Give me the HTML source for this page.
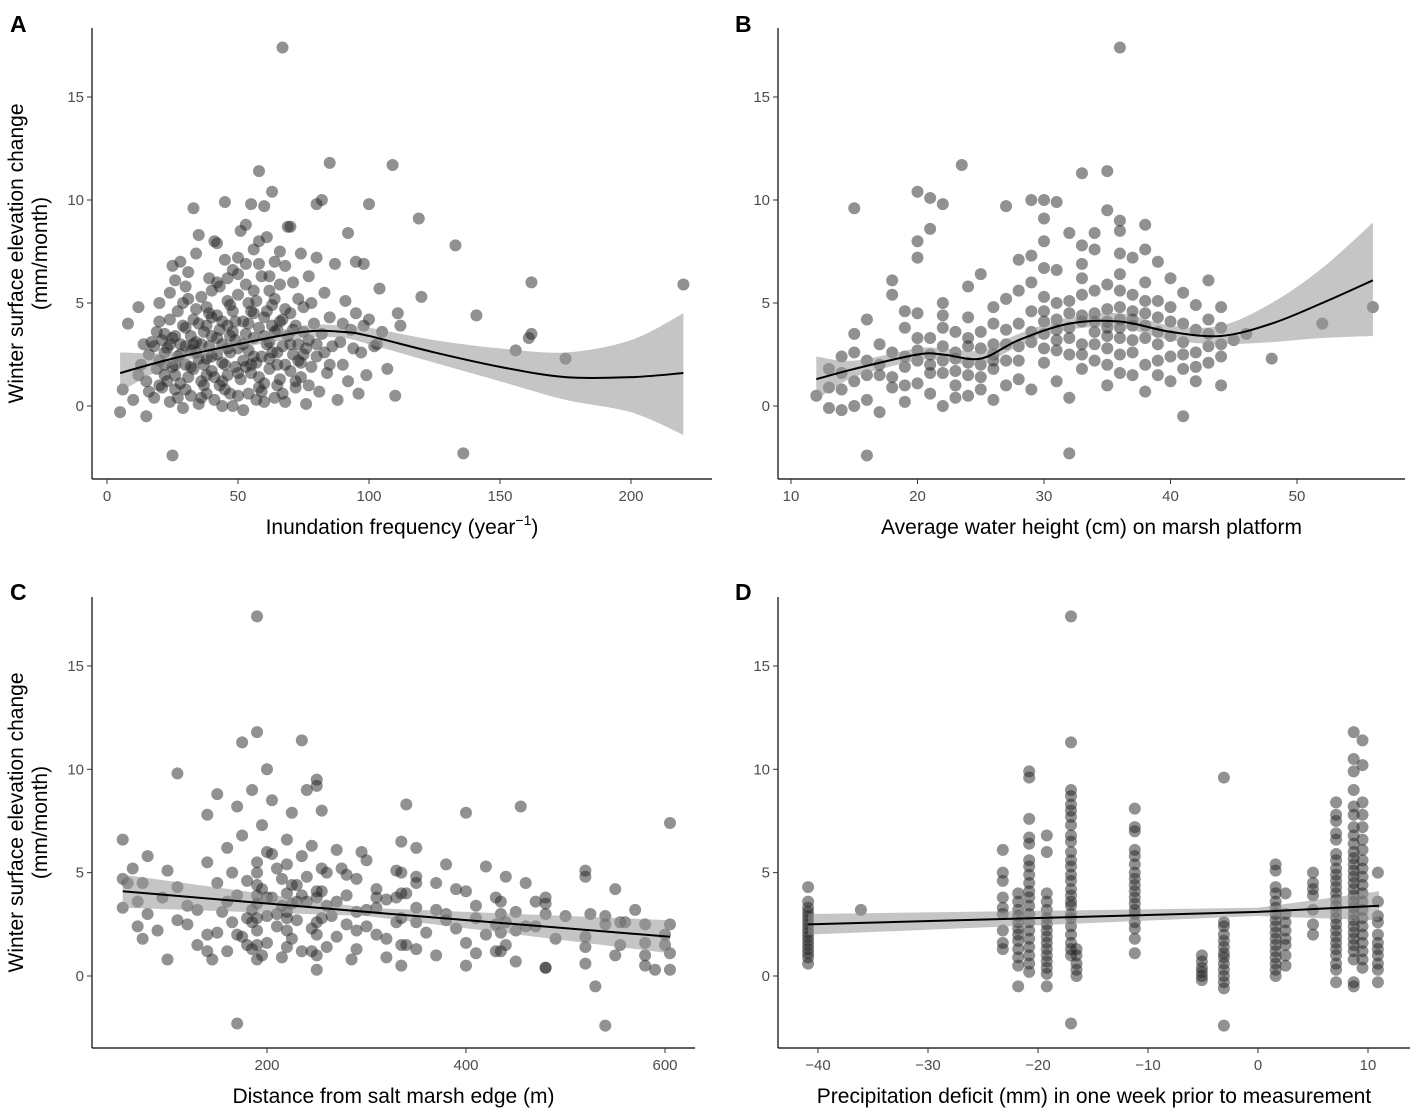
<!DOCTYPE html>
<html><head><meta charset="utf-8"><style>
html,body{margin:0;padding:0;background:#fff}
svg{display:block;font-family:"Liberation Sans",Arial,sans-serif}
.tk{fill:#4d4d4d;font-size:15px}
.ttl{fill:#000;font-size:21px}
.lab{font-size:23px;font-weight:bold;fill:#000}
</style></head><body>
<svg id="chart" width="1417" height="1108" viewBox="0 0 1417 1108"></svg>
<script>
// ---------- data ----------
const ptsA = "67,17.4 25,-2.4 136,-2.3 220,5.9 162,6.0 162,3.5 161,3.3 175,2.3 156,2.7 141,4.4 133,7.8 119,9.1 109,11.7 85,11.8 58,11.4 55,9.8 45,9.9 33,9.6 120,5.3 110,0.5 103,3.0 111,4.5 95,7.0 98,6.9 92,8.4 100,9.8 80,9.8 82,10.0 63,10.4 70,8.7 5,-0.3 6,0.8 8,4.0 12,4.8 15,-0.5 10,0.3 15,1.2 16,2.5 17,3.1 18,0.4 19,1.8 20,2.2 20,4.1 21,0.9 22,3.5 22,1.5 23,2.8 24,0.2 24,5.5 25,1.9 25,3.3 26,6.1 26,0.8 27,2.4 27,4.6 28,1.1 28,3.0 29,5.0 29,-0.1 30,2.0 30,3.8 31,1.4 31,6.5 32,2.7 32,0.5 33,4.2 33,1.8 34,3.1 34,7.4 35,0.1 35,2.3 36,5.3 36,1.2 37,3.6 37,2.0 38,4.8 38,0.6 39,2.9 39,6.2 40,1.7 40,3.4 41,8.0 41,0.3 42,2.5 42,4.4 43,1.0 43,5.8 44,3.0 44,2.1 45,7.1 45,0.8 46,3.9 46,1.5 47,4.9 47,2.6 48,6.6 48,0.0 49,3.2 49,1.9 50,5.4 50,2.8 51,8.5 51,1.3 52,4.1 52,2.2 53,3.5 53,6.9 54,0.6 54,2.7 55,4.6 55,1.6 56,7.6 56,3.3 57,2.1 57,5.1 58,0.9 58,3.8 59,6.3 59,2.4 60,4.3 60,1.1 61,8.2 61,3.0 62,5.6 62,1.8 63,2.6 63,4.9 64,0.4 64,7.0 65,3.7 65,2.0 66,5.9 66,1.3 67,4.2 67,2.9 68,6.8 68,0.2 69,3.4 69,8.7 70,1.7 70,4.5 71,2.5 71,6.0 72,3.9 72,0.9 73,5.2 73,2.2 74,7.4 74,1.4 75,3.6 75,4.8 76,0.1 76,2.8 77,6.3 77,3.2 78,1.9 78,5.0 79,4.0 80,2.4 80,7.2 81,0.7 82,3.5 83,5.5 84,1.6 85,4.3 86,2.9 87,6.9 88,0.3 89,3.1 90,2.0 91,5.1 92,1.2 93,3.7 95,4.5 96,0.6 97,2.6 98,3.9 99,1.5 100,4.2 102,2.9 104,5.7 105,3.6 107,1.8 112,3.9 18,2.9 21,3.2 23,1.2 26,2.0 29,3.9 32,3.4 35,4.0 38,2.3 41,1.4 44,4.1 47,3.4 50,0.5 53,1.9 56,4.5 59,0.7 62,3.1 65,2.6 68,4.7 71,3.7 74,2.1 28,7.0 35,8.3 42,7.9 50,7.2 58,8.0 60,9.7 66,7.5 53,8.8 46,6.2 40,5.6 31,5.2 24,4.2 19,3.6 16,0.7 13,2.0 14,3.0 12,1.5";
const ptsA2 = "20,1.0 22,2.0 24,3.0 26,1.5 28,2.5 30,0.8 32,1.9 34,2.6 36,3.0 38,1.5 40,2.4 42,3.3 44,1.2 46,2.8 48,3.6 50,1.6 52,3.0 54,4.0 56,2.4 58,1.4 60,3.4 62,2.3 64,3.6 66,4.1 68,2.0 70,3.0 72,1.2 36,0.4 44,0.0 52,-0.2 60,0.2 40,4.3 48,4.6 56,5.6 64,5.2 30,2.9 34,4.7 46,5.1 54,5.0 62,6.3 58,6.9 50,6.4 42,6.0 38,3.9 26,3.4 22,2.6 45,2.0 55,2.0 65,1.0 75,2.5 80,3.0 85,2.0 27,0.4 37,1.0 47,0.6 57,0.3 67,0.6 77,1.0 20,5.0 25,6.8 30,5.8 53,5.9 61,4.6 49,4.1 39,4.5 33,3.0 43,3.7 63,3.9 73,3.0 83,2.6 90,4.0 94,2.8";
const ptsB = "36,17.4 16,-2.4 32,-2.3 23.5,11.7 35,11.4 33,11.3 20,10.4 21,10.1 15,9.6 22,9.8 29,10.0 30,10.0 31,9.9 27,9.7 52,4.0 56,4.8 48,2.3 41,-0.5 43,6.1 44,4.8 38,8.8 36,8.5 12,0.5 13,1.8 13,-0.1 14,0.8 14,2.4 15,1.2 15,3.5 16,0.3 16,2.2 17,1.5 17,3.0 17,-0.3 18,2.6 18,0.9 18,5.4 19,1.9 19,3.8 19,0.2 20,2.7 20,1.1 20,7.2 20,4.5 21,2.0 21,3.3 21,0.6 21,8.6 22,1.6 22,2.9 22,5.0 22,0.0 23,2.3 23,3.6 23,1.0 24,2.1 24,4.3 24,0.5 25,2.8 25,1.4 25,6.4 26,3.0 26,1.8 26,0.3 27,3.7 27,2.2 27,5.2 28,4.0 28,1.3 28,7.1 28,2.9 29,4.6 29,3.1 29,0.8 29,6.0 30,3.5 30,5.3 30,2.1 30,8.0 31,4.2 31,2.7 31,6.6 31,1.2 32,3.8 32,5.1 32,2.5 32,8.4 32,0.4 33,4.4 33,3.0 33,6.9 33,1.8 34,5.6 34,3.6 34,2.2 34,7.6 35,4.1 35,5.9 35,2.8 35,9.5 35,1.0 36,3.3 36,6.4 36,4.8 36,1.6 37,4.6 37,2.6 37,7.2 37,5.4 38,3.9 38,2.0 38,6.0 38,0.7 39,4.3 39,3.0 39,5.1 39,1.5 40,3.4 40,2.4 40,6.2 41,4.0 41,1.8 41,3.1 42,2.6 42,4.9 42,1.2 43,3.5 43,2.1 43,4.2 44,3.0 44,1.0 44,3.8 45,3.2 46,3.5 23,2.6 24,2.9 25,2.0 26,2.5 19,2.4 21,1.6 31,3.7 33,4.1 35,3.4 37,3.9 34,4.5 30,4.1 36,3.8 38,4.5 40,4.8 26,4.8 28,5.6 33,7.8 16,4.2 14,-0.2 15,0.0 18,6.1 20,8.0 36,9.0 30,9.1";
const ptsB2 = "17,2.0 18,1.4 19,1.0 20,2.2 20,3.3 21,2.5 22,2.2 22,3.8 23,1.7 23,0.4 24,1.5 24,3.3 25,0.8 25,3.6 26,2.2 16,1.5 15,2.6 14,1.6 13,0.9 19,4.6 22,4.4 24,5.8 28,2.2 29,3.6 30,2.8 30,4.6 31,3.2 31,5.0 32,3.3 32,4.5 33,2.5 33,5.4 34,3.0 34,4.1 35,3.8 35,4.7 35,2.0 36,2.5 36,4.2 36,5.6 37,3.2 37,4.2 37,1.5 38,3.3 38,5.1 39,3.6 39,2.2 40,4.1 40,1.2 41,2.5 42,3.7 43,2.9 44,2.4 42,1.9 30,6.7 33,6.2 36,7.4 34,8.4 29,7.3 26,4.0 27,1.0 27,3.0 38,7.6 39,7.0 41,5.5";
const ptsC = "190,17.4 190,11.8 175,11.3 235,11.4 170,-2.3 540,-2.4 605,7.4 110,9.8 200,10.0 150,8.8 55,6.6 55,4.7 55,3.3 65,5.2 70,2.4 75,1.8 75,4.5 80,5.8 80,3.0 90,2.2 95,3.8 100,5.1 100,0.8 110,2.7 110,4.3 120,3.4 130,1.5 140,5.5 140,7.8 140,2.0 145,0.8 150,4.5 155,3.1 160,6.2 160,1.2 165,5.0 165,2.6 170,8.2 170,3.9 175,1.9 175,6.8 180,4.6 180,2.8 185,9.0 185,1.3 190,5.5 190,3.5 190,2.2 195,7.3 195,4.2 200,2.9 200,6.0 200,1.6 205,8.5 205,3.8 210,5.2 210,2.4 215,0.9 215,4.7 220,6.6 220,3.1 225,1.8 225,7.9 230,4.4 230,2.7 235,5.8 235,1.2 240,3.6 240,9.0 245,2.3 245,6.3 250,4.1 250,0.3 255,8.0 255,2.8 260,5.0 260,3.4 270,1.9 270,6.1 280,3.9 280,2.5 290,4.7 290,1.3 300,3.2 300,5.6 310,2.0 310,4.2 320,3.7 320,0.9 330,5.1 330,2.6 340,4.0 340,1.5 340,8.3 350,3.3 350,6.2 360,2.1 370,4.5 370,1.0 380,3.0 380,5.4 390,2.3 400,4.1 400,0.5 400,7.9 410,3.4 420,2.0 420,5.3 430,3.8 430,1.2 440,4.8 440,2.6 450,3.1 450,0.7 455,8.2 460,4.5 470,2.4 480,3.5 480,0.4 490,1.8 500,2.9 520,5.1 520,1.4 525,3.0 530,-0.5 540,2.5 550,4.2 550,1.0 560,2.6 570,3.2 580,1.6 590,0.3 600,2.0 605,2.5 600,1.5 160,3.6 170,2.0 180,1.5 190,4.4 200,3.8 210,3.0 220,2.2 230,3.6 240,4.8 250,2.0 260,1.4 270,3.6 280,4.9 290,3.1 300,2.4 185,2.6 195,1.0 205,5.9 215,3.4 225,4.4 235,3.9 245,1.2 255,4.1 265,2.9 275,5.2 285,0.8 295,6.0 310,3.3 330,3.8 350,2.6 370,3.2 390,4.2 410,2.8 430,2.5 450,2.2 470,3.6";
const ptsC2 = "190,1.5 190,2.8 190,3.9 190,0.8 190,5.0 185,3.2 220,1.4 220,2.8 220,4.0 220,5.4 225,3.5 250,1.0 250,2.6 250,3.8 255,5.2 250,9.5 250,9.2 335,0.5 335,1.5 335,2.8 335,4.0 335,5.0 335,6.5 350,1.3 350,4.5 350,4.8 435,1.2 435,2.1 435,3.0 435,3.6 440,1.5 480,0.4 480,3.8 480,3.0 520,1.9 520,0.6 520,4.8 540,2.9 555,2.6 555,1.5 580,0.5 580,1.0 580,2.5 605,1.1 605,0.3 290,2.2 310,3.8 320,1.8 380,2.7 400,1.6 410,1.1 460,2.4 150,2.1 140,1.2 130,3.2 60,4.5 70,3.6 120,2.5";
const colXD = [-40.9,-36.1,-23.2,-21.8,-20.8,-19.2,-17.0,-16.5,-11.2,-5.1,-3.1,1.6,2.5,5.0,7.1,8.7,9.5,10.9];
const colYD = [
 [4.3,3.6,3.3,3.1,2.9,2.7,2.5,2.3,2.1,1.9,1.7,1.5,1.3,1.1,0.9,0.6],
 [3.2],
 [6.1,5.0,4.6,3.8,3.3,3.0,2.2,1.6,1.3],
 [4.0,3.6,3.2,2.9,2.6,2.3,2.0,1.7,1.3,0.9,0.5,-0.5],
 [9.9,9.6,7.6,6.7,6.4,5.6,5.3,4.9,4.5,4.1,3.8,3.4,3.0,2.6,2.2,1.8,1.4,1.0,0.6,0.2],
 [6.8,6.0,4.0,3.6,3.2,2.8,2.5,2.2,1.9,1.6,1.3,1.0,0.7,0.4,0.1,-0.5],
 [17.4,11.3,9.0,8.7,8.3,8.0,7.7,7.3,6.8,6.5,6.0,5.6,5.3,4.9,4.6,4.2,3.9,3.6,3.4,3.0,2.8,2.4,2.0,1.6,1.3,1.0,-2.3],
 [1.3,1.0,0.6,0.3,0.0],
 [8.1,7.2,7.0,6.1,5.8,5.4,5.0,4.7,4.4,4.1,3.8,3.5,3.2,3.0,2.6,2.3,1.8,1.1],
 [1.0,0.7,0.4,0.2,0.0,-0.2],
 [9.6,2.6,2.4,2.0,1.7,1.4,1.1,0.9,0.6,0.3,0.0,-0.3,-0.6,-2.4],
 [5.4,5.1,4.3,4.0,3.6,3.3,3.0,2.7,2.4,2.1,1.8,1.5,1.2,0.9,0.6,0.3,0.0],
 [4.0,3.0,2.6,2.2,1.8,1.5,1.0,0.5],
 [5.0,4.5,4.2,3.9,3.2,2.5,2.0],
 [8.4,7.8,7.5,6.9,6.6,5.9,5.6,5.2,4.9,4.6,4.3,4.0,3.7,3.4,3.1,2.8,2.5,2.2,1.9,1.6,1.3,1.0,0.6,0.3,-0.3],
 [11.8,10.5,9.9,9.0,8.2,7.8,7.2,6.8,6.4,6.0,5.7,5.4,5.1,4.8,4.5,4.2,3.9,3.6,3.3,3.0,2.7,2.4,2.1,1.8,1.5,1.2,0.8,-0.5,-0.3],
 [11.4,10.2,8.4,7.8,7.2,6.6,6.1,5.6,5.2,4.8,4.4,4.0,3.6,3.2,2.8,2.4,2.0,1.6,1.2,0.8,0.4],
 [5.0,3.6,2.9,2.6,2.0,1.6,1.3,1.0,0.6,0.3,-0.3]
];
const fitXA=[5,25,50,75,90,100,125,150,175,200,220];
const fitYA=[1.6,2.3,3.0,3.6,3.6,3.4,2.6,1.9,1.4,1.4,1.6];
const loA=[0.7,2.0,2.8,3.3,3.3,3.0,2.1,1.2,0.3,-0.3,-1.4];
const hiA=[2.6,2.6,3.2,3.9,3.9,3.8,3.2,2.8,2.6,3.2,4.5];
const fitXB=[12,15,20,22,25,28,32,36,40,44,48,52,56];
const fitYB=[1.3,1.8,2.5,2.5,2.3,3.2,4.0,4.1,3.6,3.4,4.0,5.0,6.1];
const loB=[0.3,1.4,2.2,2.2,2.0,2.9,3.7,3.8,3.2,3.0,3.1,3.3,3.4];
const hiB=[2.4,2.2,2.8,2.8,2.7,3.5,4.3,4.5,3.9,3.9,5.0,6.7,8.9];
const fitXC=[55,300,605], fitYC=[4.1,3.1,1.9], loC=[3.3,2.9,1.1], hiC=[4.9,3.3,2.7];
const fitXD=[-40.9,0,11], fitYD=[2.5,3.1,3.4], loD=[2.0,2.9,2.7], hiD=[3.0,3.3,4.1];
const yTicks=[0,5,10,15];
const xTicksA=[0,50,100,150,200], xTicksB=[10,20,30,40,50], xTicksC=[200,400,600], xTicksD=[-40,-30,-20,-10,0,10];

// ---------- drawing ----------
const NS="http://www.w3.org/2000/svg", svg=document.getElementById('chart');
function mk(t,a,p){const e=document.createElementNS(NS,t);for(const k in a)e.setAttribute(k,a[k]);(p||svg).appendChild(e);return e;}
function parse(s){return s.trim().split(/\s+/).map(q=>q.split(',').map(Number));}
function smooth(P){let d='M'+P[0][0]+','+P[0][1];for(let i=0;i<P.length-1;i++){const p0=P[i-1]||P[i],p1=P[i],p2=P[i+1],p3=P[i+2]||p2;
 d+=' C'+(p1[0]+(p2[0]-p0[0])/6)+','+(p1[1]+(p2[1]-p0[1])/6)+' '+(p2[0]-(p3[0]-p1[0])/6)+','+(p2[1]-(p3[1]-p1[1])/6)+' '+p2[0]+','+p2[1];}return d;}
const panels=[
 {id:'a',L:'A',lx:10,ly:32,ax:92,ar:712,top:28,bot:479,y0:406,ys:20.6,x0:107,xv:0,xs:2.62,pts:parse(ptsA).concat(parse(ptsA2)),fx:fitXA,fy:fitYA,lo:loA,hi:hiA,xt:xTicksA,title:'Inundation frequency (year',sup:true,curve:true,ytitle:true},
 {id:'b',L:'B',lx:735,ly:32,ax:778,ar:1405,top:28,bot:479,y0:406,ys:20.6,x0:791,xv:10,xs:12.65,pts:parse(ptsB).concat(parse(ptsB2)),fx:fitXB,fy:fitYB,lo:loB,hi:hiB,xt:xTicksB,title:'Average water height (cm) on marsh platform',curve:true},
 {id:'c',L:'C',lx:10,ly:600,ax:92,ar:695,top:597,bot:1048,y0:976,ys:20.67,x0:267,xv:200,xs:0.995,pts:parse(ptsC).concat(parse(ptsC2)),fx:fitXC,fy:fitYC,lo:loC,hi:hiC,xt:xTicksC,title:'Distance from salt marsh edge (m)',ytitle:true},
 {id:'d',L:'D',lx:735,ly:600,ax:778,ar:1410,top:597,bot:1048,y0:976,ys:20.67,x0:818,xv:-40,xs:11.0,pts:(function(){const r=[];colXD.forEach((x,i)=>colYD[i].forEach(y=>r.push([x,y])));return r;})(),fx:fitXD,fy:fitYD,lo:loD,hi:hiD,xt:xTicksD,title:'Precipitation deficit (mm) in one week prior to measurement'}
];
panels.forEach(p=>{
 const X=v=>p.x0+(v-p.xv)*p.xs, Y=v=>p.y0-v*p.ys;
 const g=mk('g',{});
 
 
 const lab=mk('text',{x:p.lx,y:p.ly,class:'lab'},g);lab.textContent=p.L;
 
 
 const pg=mk('g',{},g);
 
 
 p.pts.forEach(q=>{const c=mk('circle',{cx:X(q[0]),cy:Y(q[1]),r:6,fill:'rgba(35,35,35,0.5)'},pg);
  
  });
 const up=p.fx.map((x,i)=>[X(x),Y(p.hi[i])]), dn=p.fx.map((x,i)=>[X(x),Y(p.lo[i])]).reverse();
 let bd;
 if(p.curve){const s2=smooth(dn);bd=smooth(up)+' L'+s2.slice(1)+' Z';}
 else bd='M'+up.map(q=>q.join(',')).join(' L')+' L'+dn.map(q=>q.join(',')).join(' L')+' Z';
 const band=mk('path',{d:bd,fill:'rgba(150,150,150,0.55)'},g);
 
 
 const fp=p.fx.map((x,i)=>[X(x),Y(p.fy[i])]);
 const line=mk('path',{d:p.curve?smooth(fp):'M'+fp.map(q=>q.join(',')).join(' L'),fill:'none',stroke:'#000',"stroke-width":2},g);
 
 
 const ax=mk('g',{},g);
 
 
 mk('line',{x1:p.ax,y1:p.top,x2:p.ax,y2:p.bot,stroke:'#000','stroke-width':1.2},ax);
 mk('line',{x1:p.ax,y1:p.bot,x2:p.ar,y2:p.bot,stroke:'#000','stroke-width':1.2},ax);
 yTicks.forEach(v=>{mk('line',{x1:p.ax-5,x2:p.ax,y1:Y(v),y2:Y(v),stroke:'#333'},ax);
  const t=mk('text',{x:p.ax-8,y:Y(v)+5,'text-anchor':'end',class:'tk'},ax);t.textContent=v;
  
  });
 p.xt.forEach(v=>{mk('line',{x1:X(v),x2:X(v),y1:p.bot,y2:p.bot+5,stroke:'#333'},ax);
  const t=mk('text',{x:X(v),y:p.bot+22,'text-anchor':'middle',class:'tk'},ax);t.textContent=v<0?'\u2212'+(-v):v;
  
  });
 const tt=mk('text',{x:(p.ax+p.ar)/2,y:p.bot+55,'text-anchor':'middle',class:'ttl'},g);
 
 
 if(p.sup){tt.textContent=p.title;const s=mk('tspan',{dy:-9,'font-size':14},tt);s.textContent='\u22121';const e=mk('tspan',{dy:9},tt);e.textContent=')';}
 else tt.textContent=p.title;
 if(p.ytitle){const cy=(p.top+p.bot)/2;
  const t1=mk('text',{x:0,y:0,'text-anchor':'middle',class:'ttl',transform:'translate(23,'+cy+') rotate(-90)'},g);t1.textContent='Winter surface elevation change';
  
  
  const t2=mk('text',{x:0,y:0,'text-anchor':'middle',class:'ttl',transform:'translate(47,'+cy+') rotate(-90)'},g);t2.textContent='(mm/month)';
  
  }
});
</script>
</body></html>
